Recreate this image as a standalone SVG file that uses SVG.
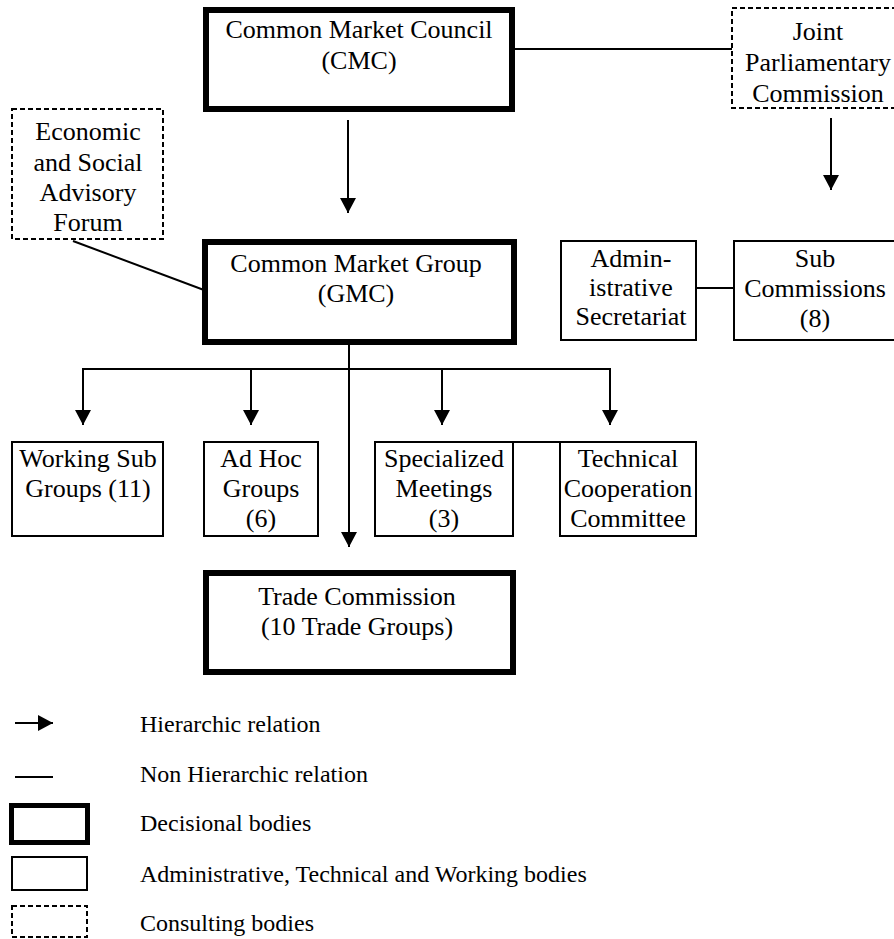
<svg xmlns="http://www.w3.org/2000/svg" width="894" height="939" viewBox="0 0 894 939">
<style>
  text { font-family: "Liberation Serif", "Times New Roman", serif; font-size: 26px; fill: #000; text-anchor: middle; }
  .leg { font-size: 24px; text-anchor: start; }
  .dec { fill: #fff; stroke: #000; stroke-width: 6; }
  .adm { fill: #fff; stroke: #000; stroke-width: 2; }
  .con { fill: #fff; stroke: #000; stroke-width: 2; stroke-dasharray: 5 3; }
  .ln { fill: none; stroke: #000; stroke-width: 2; }
  .arr { fill: none; stroke: #000; stroke-width: 2; marker-end: url(#ah); }
</style>
<defs>
  <marker id="ah" markerUnits="userSpaceOnUse" markerWidth="16" markerHeight="16" refX="15" refY="8" orient="auto">
    <path d="M0,0 L15,8 L0,16 Z" fill="#000"/>
  </marker>
</defs>
<rect width="894" height="939" fill="#fff"/>

<g id="connectors">
  <line class="ln" x1="515" y1="49" x2="732" y2="49"/>
  <line class="arr" x1="831" y1="118" x2="831" y2="190"/>
  <line class="arr" x1="348" y1="120" x2="348" y2="213"/>
  <line class="ln" x1="73" y1="241" x2="228" y2="299"/>
  <line class="ln" x1="687" y1="288" x2="734" y2="288"/>
  <line class="arr" x1="349" y1="336" x2="349" y2="547"/>
  <polyline class="ln" points="83,369 610,369"/>
  <line class="arr" x1="83" y1="368" x2="83" y2="425"/>
  <line class="arr" x1="251" y1="368" x2="251" y2="425"/>
  <line class="arr" x1="442" y1="368" x2="442" y2="425"/>
  <line class="arr" x1="610" y1="368" x2="610" y2="425"/>
  <line class="ln" x1="513" y1="442" x2="560" y2="442"/>
</g>

<g id="cmc">
  <rect class="dec" x="206" y="10" width="306" height="99"/>
  <text x="359" y="38">Common Market Council</text>
  <text x="359" y="69">(CMC)</text>
</g>

<g id="jpc">
  <rect class="con" x="732" y="8" width="172" height="100"/>
  <text x="818" y="40">Joint</text>
  <text x="818" y="71">Parliamentary</text>
  <text x="818" y="102">Commission</text>
</g>

<g id="esaf">
  <rect class="con" x="12" y="109" width="151" height="130"/>
  <text x="88" y="140">Economic</text>
  <text x="88" y="171">and Social</text>
  <text x="88" y="201">Advisory</text>
  <text x="88" y="231">Forum</text>
</g>

<g id="gmc">
  <rect class="dec" x="205" y="242" width="309" height="100"/>
  <text x="356" y="272">Common Market Group</text>
  <text x="356" y="302">(GMC)</text>
</g>

<g id="admin">
  <rect class="adm" x="561" y="241" width="135" height="99"/>
  <text x="631" y="267">Admin-</text>
  <text x="631" y="296">istrative</text>
  <text x="631" y="325">Secretariat</text>
</g>

<g id="subcom">
  <rect class="adm" x="734" y="241" width="164" height="99"/>
  <text x="815" y="267">Sub</text>
  <text x="815" y="297">Commissions</text>
  <text x="815" y="327">(8)</text>
</g>

<g id="wsg">
  <rect class="adm" x="12" y="442" width="151" height="94"/>
  <text x="88" y="467">Working Sub</text>
  <text x="88" y="497">Groups (11)</text>
</g>

<g id="adhoc">
  <rect class="adm" x="204" y="442" width="114" height="94"/>
  <text x="261" y="467">Ad Hoc</text>
  <text x="261" y="497">Groups</text>
  <text x="261" y="527">(6)</text>
</g>

<g id="spec">
  <rect class="adm" x="375" y="442" width="138" height="94"/>
  <text x="444" y="467">Specialized</text>
  <text x="444" y="497">Meetings</text>
  <text x="444" y="527">(3)</text>
</g>

<g id="tech">
  <rect class="adm" x="560" y="442" width="136" height="94"/>
  <text x="628" y="467">Technical</text>
  <text x="628" y="497">Cooperation</text>
  <text x="628" y="527">Committee</text>
</g>

<g id="trade">
  <rect class="dec" x="206" y="573" width="307" height="99"/>
  <text x="357" y="605">Trade Commission</text>
  <text x="357" y="635">(10 Trade Groups)</text>
</g>

<g id="legend">
  <line class="arr" x1="15" y1="723" x2="53" y2="723"/>
  <text class="leg" x="140" y="732">Hierarchic relation</text>
  <line class="ln" x1="15" y1="777" x2="53" y2="777"/>
  <text class="leg" x="140" y="782">Non Hierarchic relation</text>
  <rect x="11.5" y="805.5" width="76" height="37" fill="#fff" stroke="#000" stroke-width="5"/>
  <text class="leg" x="140" y="831">Decisional bodies</text>
  <rect class="adm" x="12" y="857" width="75" height="33"/>
  <text class="leg" x="140" y="882">Administrative, Technical and Working bodies</text>
  <rect class="con" x="12" y="906" width="75" height="31"/>
  <text class="leg" x="140" y="931">Consulting bodies</text>
</g>
</svg>
